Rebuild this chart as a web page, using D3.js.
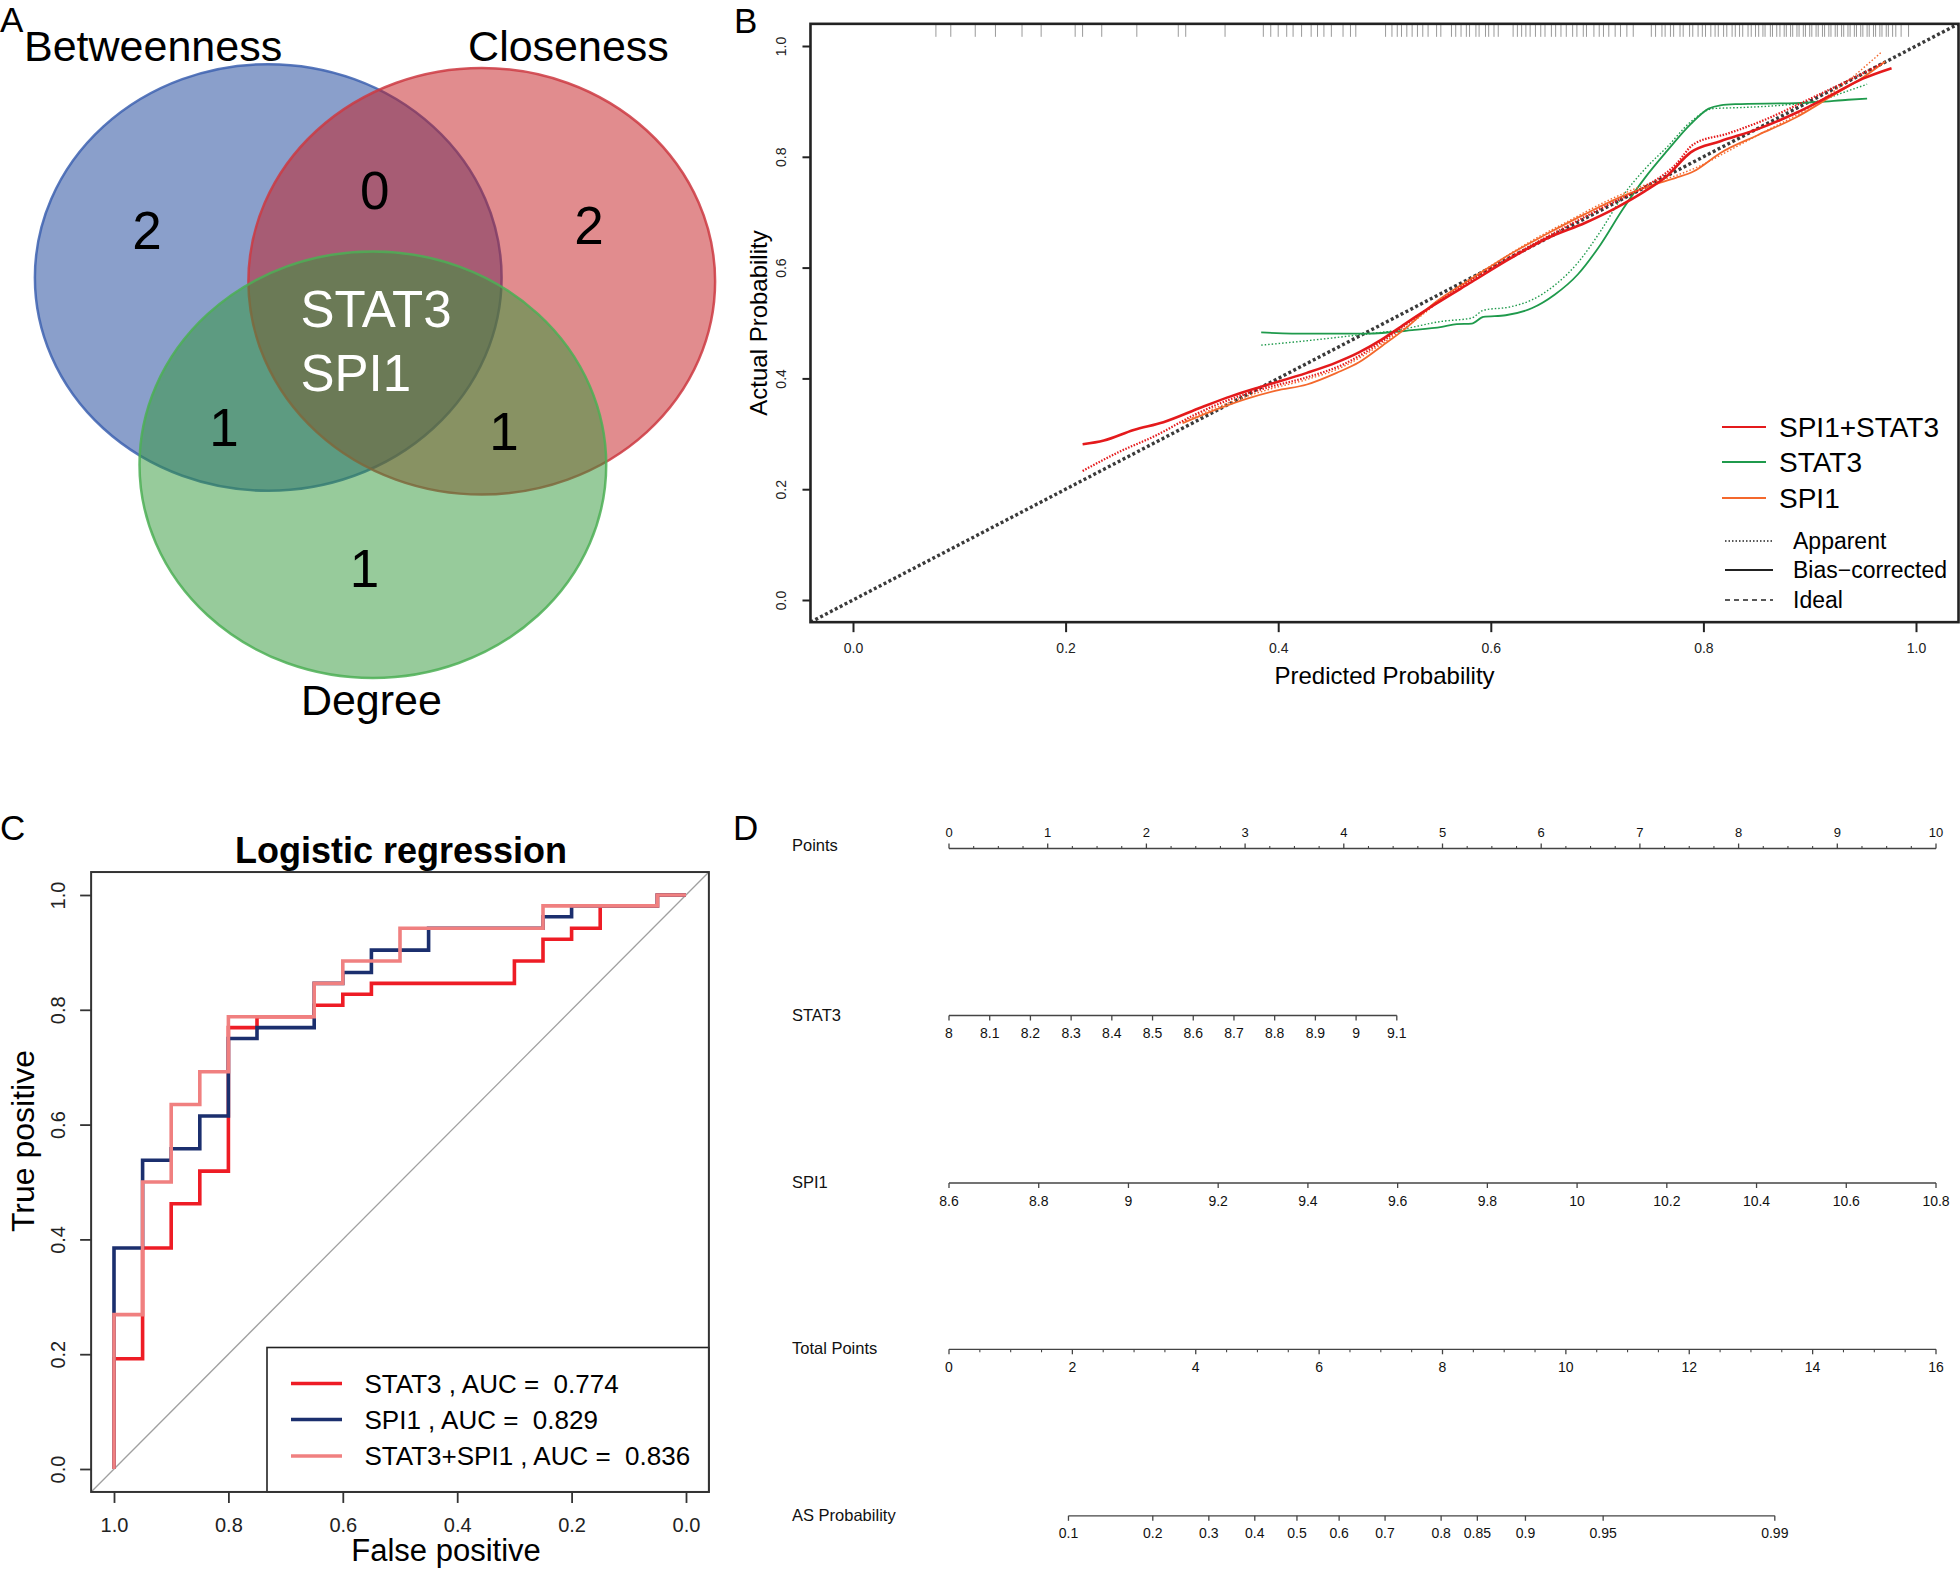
<!DOCTYPE html>
<html><head><meta charset="utf-8">
<script src="https://cdn.jsdelivr.net/npm/d3@7"></script>
<style>
body{margin:0;background:#fff}
svg{display:block}
text{font-family:"Liberation Sans",Arial,Helvetica,sans-serif}
</style>
</head><body>
<svg id="fig" width="1960" height="1570"></svg>
<script>
// ===================== DATA =====================
// Panel A – Venn
const vennSetNames = ["Betweenness", "Closeness", "Degree"];
const vennRegionCounts = ["2", "2", "1", "0", "1", "1"]; // B only, C only, D only, B∩C, B∩D, C∩D
const vennCoreGenes = ["STAT3", "SPI1"];

// Panel B – calibration curves (predicted, actual)
const calRug = [0.078,0.092,0.115,0.134,0.159,0.177,0.209,0.216,0.234,0.267,0.306,0.313,0.350,0.386,0.393,0.400,0.408,0.414,0.422,0.431,0.437,0.443,0.450,0.461,0.468,0.473,
 0.501,0.507,0.512,0.516,0.521,0.526,0.531,0.536,0.541,0.549,0.553,0.563,0.567,0.572,0.577,0.580,0.586,0.589,0.595,0.598,0.603,0.607,0.621,0.625,0.629,0.633,0.637,0.642,0.647,0.651,0.657,0.661,0.666,0.671,0.677,0.681,0.687,0.690,0.697,0.702,0.706,0.711,0.717,0.722,0.728,0.734,0.751,0.755,0.761,0.764,0.769,0.772,0.778,0.781,0.787,0.790,0.795,0.799,0.802,0.807,0.811,0.814,0.819,0.822,0.827,0.830,0.834,0.837,0.842,0.845,0.849,0.852,0.856,0.858,0.863,0.865,0.869,0.872,0.876,0.878,0.882,0.884,0.888,0.890,0.894,0.896,0.900,0.902,0.906,0.908,0.912,0.914,0.918,0.920,0.924,0.926,0.930,0.932,0.936,0.938,0.942,0.944,0.948,0.950,0.954,0.956,0.960,0.962,0.966,0.968,0.972,0.974,0.978,0.981,0.986,0.993];
const calSeriesNames = ["SPI1+STAT3", "STAT3", "SPI1"];
const calLineTypes = ["Apparent", "Bias\u2212corrected", "Ideal"];
const combBiasX = [0.216,0.236,0.264,0.292,0.328,0.356,0.384,0.427,0.455,0.476,0.498,0.519,0.547,0.582,0.618,0.653,0.689,0.717,0.745,0.766,0.788,0.816,0.851,0.887,0.922,0.950,0.977];
const combBiasY = [0.281,0.288,0.307,0.321,0.348,0.368,0.385,0.410,0.429,0.447,0.471,0.498,0.533,0.574,0.616,0.653,0.681,0.707,0.738,0.766,0.808,0.828,0.850,0.879,0.913,0.941,0.960];
const combAppX = [0.216,0.250,0.285,0.321,0.356,0.391,0.427,0.462,0.498,0.533,0.568,0.604,0.639,0.674,0.710,0.745,0.774,0.791,0.823,0.858,0.894,0.929,0.968];
const combAppY = [0.233,0.267,0.297,0.334,0.363,0.384,0.402,0.426,0.467,0.515,0.560,0.603,0.641,0.677,0.713,0.746,0.786,0.823,0.842,0.867,0.899,0.931,0.968];
const stat3BiasX = [0.384,0.413,0.483,0.526,0.554,0.568,0.582,0.593,0.614,0.639,0.660,0.682,0.703,0.724,0.745,0.766,0.788,0.805,0.816,0.830,0.887,0.908,0.936,0.954];
const stat3BiasY = [0.483,0.481,0.481,0.487,0.493,0.498,0.499,0.511,0.514,0.527,0.551,0.588,0.641,0.705,0.762,0.811,0.859,0.887,0.893,0.895,0.897,0.899,0.903,0.905];
const stat3AppX = [0.384,0.427,0.469,0.512,0.554,0.582,0.593,0.618,0.639,0.660,0.682,0.703,0.724,0.745,0.766,0.788,0.809,0.837,0.873,0.908,0.936,0.954];
const stat3AppY = [0.460,0.468,0.477,0.487,0.503,0.509,0.523,0.529,0.542,0.568,0.609,0.665,0.729,0.778,0.818,0.863,0.887,0.889,0.893,0.901,0.919,0.931];
const spi1BiasX = [0.310,0.342,0.370,0.398,0.427,0.455,0.476,0.498,0.519,0.547,0.582,0.618,0.653,0.689,0.724,0.752,0.774,0.791,0.816,0.851,0.887,0.922,0.950,0.971];
const spi1BiasY = [0.319,0.344,0.363,0.378,0.389,0.410,0.429,0.459,0.489,0.536,0.580,0.624,0.661,0.697,0.729,0.749,0.762,0.774,0.807,0.839,0.871,0.911,0.943,0.972];
const spi1AppX = [0.310,0.356,0.391,0.427,0.462,0.498,0.533,0.568,0.604,0.639,0.674,0.710,0.745,0.774,0.795,0.823,0.858,0.894,0.929,0.967];
const spi1AppY = [0.321,0.358,0.380,0.398,0.422,0.463,0.511,0.564,0.608,0.649,0.685,0.721,0.749,0.766,0.782,0.810,0.846,0.882,0.927,0.988];
const calTicks = [0, 0.2, 0.4, 0.6, 0.8, 1.0];

// Panel C – ROC (specificity, sensitivity)
const rocNames = ["STAT3 , AUC =  0.774", "SPI1 , AUC =  0.829", "STAT3+SPI1 , AUC =  0.836"];
const rocStat3Spec = [1,1,0.95,0.95,0.9,0.9,0.85,0.85,0.8,0.8,0.75,0.75,0.65,0.65,0.6,0.6,0.55,0.55,0.3,0.3,0.25,0.25,0.2,0.2,0.15,0.15,0.05,0.05,0];
const rocStat3Sens = [0,0.192,0.192,0.385,0.385,0.462,0.462,0.519,0.519,0.769,0.769,0.788,0.788,0.808,0.808,0.827,0.827,0.846,0.846,0.885,0.885,0.923,0.923,0.942,0.942,0.981,0.981,1,1];
const rocSpi1Spec = [1,1,0.95,0.95,0.9,0.9,0.85,0.85,0.8,0.8,0.75,0.75,0.65,0.65,0.6,0.6,0.55,0.55,0.45,0.45,0.25,0.25,0.2,0.2,0.05,0.05,0];
const rocSpi1Sens = [0,0.385,0.385,0.538,0.538,0.558,0.558,0.615,0.615,0.75,0.75,0.769,0.769,0.846,0.846,0.865,0.865,0.904,0.904,0.942,0.942,0.962,0.962,0.981,0.981,1,1];
const rocCombSpec = [1,1,0.95,0.95,0.9,0.9,0.85,0.85,0.8,0.8,0.65,0.65,0.6,0.6,0.5,0.5,0.25,0.25,0.05,0.05,0];
const rocCombSens = [0,0.269,0.269,0.5,0.5,0.635,0.635,0.692,0.692,0.788,0.788,0.846,0.846,0.885,0.885,0.942,0.942,0.981,0.981,1,1];
const rocTicks = [0, 0.2, 0.4, 0.6, 0.8, 1.0];

// Panel D – nomogram
const nomoRowNames = ["Points", "STAT3", "SPI1", "Total Points", "AS Probability"];
const pointsTicks = [0,1,2,3,4,5,6,7,8,9,10];
const stat3Ticks = [8,8.1,8.2,8.3,8.4,8.5,8.6,8.7,8.8,8.9,9,9.1];
const stat3PointsAtMax = 4.537;           // points given to STAT3 = 9.1 (8 -> 0)
const spi1Ticks = [8.6,8.8,9,9.2,9.4,9.6,9.8,10,10.2,10.4,10.6,10.8];
const totalTicks = [0,2,4,6,8,10,12,14,16];
const probTicks = [0.1,0.2,0.3,0.4,0.5,0.6,0.7,0.8,0.85,0.9,0.95,0.99];
const modelIntercept = -3.346;            // logit at 0 total points
const modelSlope = 0.5932;                // logit per total point

// ===================== DRAW =====================
const svg = d3.select("#fig");
svg.append("rect").attr("width", 1960).attr("height", 1570).attr("fill", "#fff");

// panel letters
[["A", 0, 32], ["B", 734, 33], ["C", 0, 840], ["D", 733, 840]].forEach(([t, x, y]) =>
  svg.append("text").attr("x", x).attr("y", y).attr("font-size", 35).text(t));

// ---------- Panel A ----------
(function () {
  const u = 213.5;
  const vx = d3.scaleLinear().domain([0, 1]).range([375, 375 + u]);
  const vy = d3.scaleLinear().domain([0, 1]).range([279.4, 279.4 + u]);
  const circles = [
    {cx: -0.5, cy: -0.009, fill: "#153f97", stroke: "#3d62b0"},
    {cx: 0.5, cy: 0.009, fill: "#c3191d", stroke: "#cc3a42"},
    {cx: -0.010, cy: 0.868, fill: "#2f9737", stroke: "#4caf55"}
  ];
  const rx = 1.093, ry = 0.999;
  const g = svg.append("g");
  g.selectAll("ellipse.fill").data(circles).join("ellipse")
    .attr("cx", d => vx(d.cx)).attr("cy", d => vy(d.cy))
    .attr("rx", vx(rx) - vx(0)).attr("ry", vy(ry) - vy(0))
    .attr("fill", d => d.fill).attr("fill-opacity", 0.5)
    .attr("stroke", d => d.stroke).attr("stroke-opacity", 0.85).attr("stroke-width", 2.5);

  const namePos = [[-1.644, -1.023], [0.436, -1.023], [-0.347, 2.038]];
  g.selectAll("text.set").data(vennSetNames).join("text")
    .attr("x", (d, i) => vx(namePos[i][0])).attr("y", (d, i) => vy(namePos[i][1]))
    .attr("font-size", 43).attr("fill", "#000").text(d => d);

  const countPos = [[-1.068, -0.231], [1.002, -0.253], [-0.049, 1.352], [-0.001, -0.419], [-0.707, 0.691], [0.604, 0.710]];
  g.selectAll("text.cnt").data(vennRegionCounts).join("text")
    .attr("x", (d, i) => vx(countPos[i][0])).attr("y", (d, i) => vy(countPos[i][1]))
    .attr("dy", "0.36em").attr("text-anchor", "middle")
    .attr("font-size", 53).attr("fill", "#000").text(d => d);

  const corePos = [[-0.349, 0.139], [-0.349, 0.439]];
  g.selectAll("text.core").data(vennCoreGenes).join("text")
    .attr("x", (d, i) => vx(corePos[i][0])).attr("y", (d, i) => vy(corePos[i][1]))
    .attr("dy", "0.36em").attr("font-size", 51).attr("fill", "#fff").text(d => d);
})();

// ---------- Panel B ----------
(function () {
  const x = d3.scaleLinear().domain([0, 1]).range([853, 1916]);
  const y = d3.scaleLinear().domain([0, 1]).range([600, 46]);
  const x0 = x(-0.04), x1 = x(1.04), y0 = y(-0.04), y1 = y(1.04);
  const g = svg.append("g");
  const clip = svg.append("clipPath").attr("id", "clipB");
  clip.append("rect").attr("x", x0).attr("y", y1).attr("width", x1 - x0).attr("height", y0 - y1);

  // rug
  g.append("g").selectAll("line").data(calRug).join("line")
    .attr("x1", d => x(d)).attr("x2", d => x(d)).attr("y1", y1).attr("y2", y1 + 13)
    .attr("stroke", "#9a9a9a").attr("stroke-width", 1);

  const pl = g.append("g").attr("clip-path", "url(#clipB)");
  // ideal
  pl.append("line").attr("x1", x(-0.04)).attr("y1", y(-0.04)).attr("x2", x(1.04)).attr("y2", y(1.04))
    .attr("stroke", "#3a3a3a").attr("stroke-width", 3.4).attr("stroke-dasharray", "3,2.5");

  const line = d3.line().x(d => x(d[0])).y(d => y(d[1])).curve(d3.curveMonotoneX);
  const zip = (a, b) => a.map((v, i) => [v, b[i]]);
  const colRed = "#e41a1c", colGreen = "#1f9a4c", colOrange = "#f4682c";
  const curves = [
    {d: zip(stat3AppX, stat3AppY), c: colGreen, w: 1.4, dash: "1.5,2"},
    {d: zip(stat3BiasX, stat3BiasY), c: colGreen, w: 1.8, dash: null},
    {d: zip(spi1AppX, spi1AppY), c: colOrange, w: 1.4, dash: "1.5,2"},
    {d: zip(spi1BiasX, spi1BiasY), c: colOrange, w: 1.8, dash: null},
    {d: zip(combAppX, combAppY), c: colRed, w: 2.2, dash: "1.5,1.5"},
    {d: zip(combBiasX, combBiasY), c: colRed, w: 2.6, dash: null}
  ];
  curves.forEach(cv => {
    const p = pl.append("path").attr("d", line(cv.d)).attr("fill", "none")
      .attr("stroke", cv.c).attr("stroke-width", cv.w);
    if (cv.dash) p.attr("stroke-dasharray", cv.dash);
  });

  // frame
  g.append("rect").attr("x", x0).attr("y", y1).attr("width", x1 - x0).attr("height", y0 - y1)
    .attr("fill", "none").attr("stroke", "#222").attr("stroke-width", 2.6);

  // axes
  const ax = g.append("g").attr("transform", `translate(0,${y0})`)
    .call(d3.axisBottom(x).tickValues(calTicks).tickFormat(d3.format(".1f")).tickSize(10).tickPadding(11));
  ax.select(".domain").remove();
  ax.selectAll("line").attr("stroke", "#222").attr("stroke-width", 2);
  ax.selectAll("text").attr("font-size", 14).attr("font-family", "Liberation Sans, Arial").attr("fill", "#222");

  const ay = g.append("g").attr("transform", `translate(${x0},0)`)
    .call(d3.axisLeft(y).tickValues(calTicks).tickFormat(d3.format(".1f")).tickSize(8));
  ay.select(".domain").remove();
  ay.selectAll("line").attr("stroke", "#222").attr("stroke-width", 2);
  ay.selectAll("text").attr("font-size", 14).attr("font-family", "Liberation Sans, Arial").attr("fill", "#222")
    .attr("x", 0).attr("dy", "0.35em").attr("text-anchor", "middle")
    .attr("transform", "translate(-29,0) rotate(-90)");

  g.append("text").attr("x", (x0 + x1) / 2).attr("y", 684).attr("text-anchor", "middle")
    .attr("font-size", 24).text("Predicted Probability");
  g.append("text").attr("transform", `translate(759,${(y0 + y1) / 2}) rotate(-90)`)
    .attr("dy", "0.35em").attr("text-anchor", "middle").attr("font-size", 24).text("Actual Probability");

  // legend
  const lg = g.append("g");
  const legCols = [colRed, colGreen, colOrange];
  const legY1 = [427, 462, 498];
  calSeriesNames.forEach((n, i) => {
    lg.append("line").attr("x1", 1722).attr("x2", 1766).attr("y1", legY1[i]).attr("y2", legY1[i])
      .attr("stroke", legCols[i]).attr("stroke-width", 2);
    lg.append("text").attr("x", 1779).attr("y", legY1[i]).attr("dy", "0.36em")
      .attr("font-size", 28).text(n);
  });
  const legY2 = [541, 570, 600];
  const legDash = ["1.5,2", null, "5,4"];
  calLineTypes.forEach((n, i) => {
    const l = lg.append("line").attr("x1", 1725).attr("x2", 1773).attr("y1", legY2[i]).attr("y2", legY2[i])
      .attr("stroke", "#222").attr("stroke-width", i === 1 ? 2 : 1.6);
    if (legDash[i]) l.attr("stroke-dasharray", legDash[i]);
    lg.append("text").attr("x", 1793).attr("y", legY2[i]).attr("dy", "0.36em")
      .attr("font-size", 23).text(n);
  });
})();

// ---------- Panel C ----------
(function () {
  const x = d3.scaleLinear().domain([1, 0]).range([114, 686]);
  const y = d3.scaleLinear().domain([0, 1]).range([1469, 895]);
  const x0 = x(1.04), x1 = x(-0.04), y0 = y(-0.04), y1 = y(1.04);
  const g = svg.append("g");

  g.append("text").attr("x", 401).attr("y", 863).attr("text-anchor", "middle")
    .attr("font-size", 36).attr("font-weight", "bold").text("Logistic regression");

  // diagonal
  g.append("line").attr("x1", x(1.04)).attr("y1", y(-0.04)).attr("x2", x(-0.04)).attr("y2", y(1.04))
    .attr("stroke", "#a0a0a0").attr("stroke-width", 1.3);

  const line = d3.line().x(d => x(d[0])).y(d => y(d[1]));
  const zip = (a, b) => a.map((v, i) => [v, b[i]]);
  const rocCols = ["#ee1c25", "#1b2f6e", "#f08080"];
  const rocData = [zip(rocStat3Spec, rocStat3Sens), zip(rocSpi1Spec, rocSpi1Sens), zip(rocCombSpec, rocCombSens)];
  rocData.forEach((d, i) => g.append("path").attr("d", line(d)).attr("fill", "none")
    .attr("stroke", rocCols[i]).attr("stroke-width", 3.6).attr("stroke-linejoin", "miter"));

  // legend box
  g.append("rect").attr("x", 267).attr("y", 1347.5).attr("width", x1 - 267).attr("height", y0 - 1347.5)
    .attr("fill", "#fff").attr("stroke", "#222").attr("stroke-width", 1.6);
  const legY = [1383.5, 1419.5, 1456];
  rocNames.forEach((n, i) => {
    g.append("line").attr("x1", 291).attr("x2", 342).attr("y1", legY[i]).attr("y2", legY[i])
      .attr("stroke", rocCols[i]).attr("stroke-width", 3.6);
    g.append("text").attr("x", 364.5).attr("y", legY[i]).attr("dy", "0.36em")
      .attr("font-size", 26).style("white-space", "pre").text(n);
  });

  // frame
  g.append("rect").attr("x", x0).attr("y", y1).attr("width", x1 - x0).attr("height", y0 - y1)
    .attr("fill", "none").attr("stroke", "#333").attr("stroke-width", 2);

  const ax = g.append("g").attr("transform", `translate(0,${y0})`)
    .call(d3.axisBottom(x).tickValues(rocTicks).tickFormat(d3.format(".1f")).tickSize(11).tickPadding(15));
  ax.select(".domain").remove();
  ax.selectAll("line").attr("stroke", "#333").attr("stroke-width", 1.8);
  ax.selectAll("text").attr("font-size", 20).attr("font-family", "Liberation Sans, Arial").attr("fill", "#222");

  const ay = g.append("g").attr("transform", `translate(${x0},0)`)
    .call(d3.axisLeft(y).tickValues(rocTicks).tickFormat(d3.format(".1f")).tickSize(11));
  ay.select(".domain").remove();
  ay.selectAll("line").attr("stroke", "#333").attr("stroke-width", 1.8);
  ay.selectAll("text").attr("font-size", 20).attr("font-family", "Liberation Sans, Arial").attr("fill", "#222")
    .attr("x", 0).attr("dy", "0.35em").attr("text-anchor", "middle")
    .attr("transform", "translate(-33,0) rotate(-90)");

  g.append("text").attr("x", 446).attr("y", 1561).attr("text-anchor", "middle")
    .attr("font-size", 31).text("False positive");
  g.append("text").attr("transform", "translate(22,1141) rotate(-90)")
    .attr("dy", "0.36em").attr("text-anchor", "middle").attr("font-size", 32).text("True positive");
})();

// ---------- Panel D ----------
(function () {
  const g = svg.append("g");
  const px = d3.scaleLinear().domain([0, 10]).range([949, 1936]);
  const tx = d3.scaleLinear().domain([0, 16]).range([949, 1936]);
  const sx = d3.scaleLinear().domain([8, 9.1]).range([px(0), px(stat3PointsAtMax)]);
  const spx = d3.scaleLinear().domain([8.6, 10.8]).range([px(0), px(10)]);
  const logit = p => Math.log(p / (1 - p));
  const prx = p => tx((logit(p) - modelIntercept) / modelSlope);
  const rowY = [848.5, 1015.5, 1183, 1349.3, 1515.8];
  const col = "#444";
  const fmt = d => String(d);

  nomoRowNames.forEach((n, i) => g.append("text").attr("x", 792).attr("y", rowY[i] + (i === 0 ? 2 : 5))
    .attr("font-size", 16.5).attr("fill", "#111").text(n));

  function axisRow(y, scale, ticks, minor, up, fs, labelOff, minorLen) {
    const ends = [scale(ticks[0]), scale(ticks[ticks.length - 1])];
    g.append("line").attr("x1", d3.min(ends)).attr("x2", d3.max(ends)).attr("y1", y).attr("y2", y)
      .attr("stroke", col).attr("stroke-width", 1.3);
    const dir = up ? -1 : 1;
    g.append("g").selectAll("line").data(minor).join("line")
      .attr("x1", d => scale(d)).attr("x2", d => scale(d)).attr("y1", y).attr("y2", y + dir * minorLen)
      .attr("stroke", col).attr("stroke-width", 1.1);
    g.append("g").selectAll("line").data(ticks).join("line")
      .attr("x1", d => scale(d)).attr("x2", d => scale(d)).attr("y1", y).attr("y2", y + dir * 5)
      .attr("stroke", col).attr("stroke-width", 1.3);
    g.append("g").selectAll("text").data(ticks).join("text")
      .attr("x", d => scale(d)).attr("y", y + labelOff).attr("text-anchor", "middle")
      .attr("font-size", fs).attr("fill", "#111").text(fmt);
  }
  const pointsMinor = d3.range(0, 40).map(i => i * 0.25).filter(v => v % 1 !== 0);
  axisRow(rowY[0], px, pointsTicks, pointsMinor, true, 13, -12, 2.5);
  axisRow(rowY[1], sx, stat3Ticks, [], false, 14, 22.5, 0);
  axisRow(rowY[2], spx, spi1Ticks, [], false, 14, 22.5, 0);
  const totalMinor = d3.range(0, 32).map(i => i * 0.5).filter(v => v % 2 !== 0);
  axisRow(rowY[3], tx, totalTicks, totalMinor, false, 14, 22.5, 3);
  axisRow(rowY[4], prx, probTicks, [], false, 14, 22.5, 0);
})();
</script>
</body></html>
